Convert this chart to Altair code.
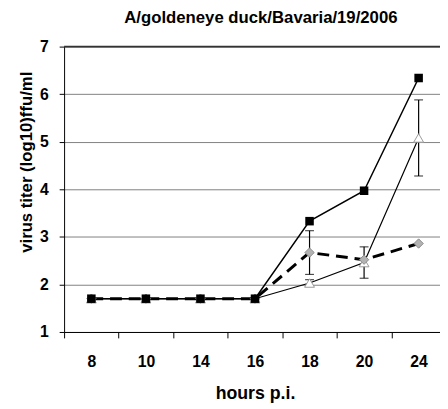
import altair as alt
import pandas as pd

hours = ["8", "10", "14", "16", "18", "20", "24"]
squares = [1.70, 1.70, 1.70, 1.70, 3.33, 3.97, 6.34]
triangles = [1.70, 1.70, 1.70, 1.70, 2.03, 2.46, 5.08]
diamonds = [1.70, 1.70, 1.70, 1.70, 2.67, 2.52, 2.86]
tri_err = [0, 0, 0, 0, 0.07, 0.33, 0.80]
dia_err = [0, 0, 0, 0, 0.46, 0, 0]

df_sq = pd.DataFrame({"hour": hours, "v": squares})
df_tri = pd.DataFrame({"hour": hours, "v": triangles})
df_dia = pd.DataFrame({"hour": hours, "v": diamonds})

err_rows = []
for h, v, e in zip(hours, triangles, tri_err):
    if e > 0:
        err_rows.append({"hour": h, "lo": v - e, "hi": v + e})
for h, v, e in zip(hours, diamonds, dia_err):
    if e > 0:
        err_rows.append({"hour": h, "lo": v - e, "hi": v + e})
df_err = pd.DataFrame(err_rows)
cap_rows = []
for r in err_rows:
    cap_rows.append({"hour": r["hour"], "c": r["lo"]})
    cap_rows.append({"hour": r["hour"], "c": r["hi"]})
df_cap = pd.DataFrame(cap_rows)

FONT = "Liberation Sans"

xenc = alt.X(
    "hour:O",
    sort=hours,
    scale=alt.Scale(type="band", paddingInner=0, paddingOuter=0, range=[0, 388]),
    axis=alt.Axis(
        title="hours p.i.",
        titleFontSize=18,
        titleFontWeight="bold",
        titleX=194,
        titleY=68,
        titleBaseline="alphabetic",
        labelAngle=0,
        labelFontSize=16,
        labelFontWeight="bold",
        labelPadding=16,
        tickBand="extent",
        tickSize=6,
        tickColor="black",
        domainColor="black",
        labelColor="black",
        titleColor="black",
        grid=False,
    ),
)

yscale = alt.Scale(domain=[1, 7], nice=False, zero=False)
yaxis = alt.Axis(
    title="virus titer (log10)ffu/ml",
    titleFontSize=17,
    titleFontWeight="bold",
    titleX=-38,
    titleY=117,
    titleAlign="center",
    titleBaseline="middle",
    values=[1, 2, 3, 4, 5, 6, 7],
    labelFontSize=16,
    labelFontWeight="bold",
    labelPadding=11,
    tickSize=5,
    tickColor="black",
    domainColor="black",
    labelColor="black",
    titleColor="black",
    grid=True,
    gridColor="#808080",
    gridWidth=1,
)

base_y = alt.Y("v:Q", scale=yscale, axis=yaxis)

top_rule = alt.Chart(pd.DataFrame({"t": [7]})).mark_rule(color="#333333", strokeWidth=2).encode(
    y=alt.Y("t:Q", scale=yscale)
)

err = alt.Chart(df_err).mark_rule(color="black", strokeWidth=1.2).encode(
    x=xenc, y=alt.Y("lo:Q", scale=yscale), y2="hi:Q"
)
caps = alt.Chart(df_cap).mark_tick(color="black", size=9, thickness=1.2).encode(
    x=xenc, y=alt.Y("c:Q", scale=yscale)
)

tri_line = alt.Chart(df_tri).mark_line(color="black", strokeWidth=1.2).encode(x=xenc, y=base_y)
tri_pts = alt.Chart(df_tri).mark_point(
    shape="triangle-up", filled=True, fill="white", stroke="#999999", strokeWidth=1, size=100, opacity=1
).encode(x=xenc, y=base_y)

sq_line = alt.Chart(df_sq).mark_line(color="black", strokeWidth=1.5).encode(x=xenc, y=base_y)

dia_line = alt.Chart(df_dia).mark_line(color="black", strokeWidth=3, strokeDash=[12, 7]).encode(x=xenc, y=base_y)
dia_pts = alt.Chart(df_dia).mark_point(
    shape="diamond", filled=True, fill="#b3b3b3", stroke="#8c8c8c", strokeWidth=1, size=90, opacity=1
).encode(x=xenc, y=base_y)

sq_pts = alt.Chart(df_sq).mark_point(
    shape="square", filled=True, color="black", size=75, opacity=1
).encode(x=xenc, y=base_y)

chart = alt.layer(
    top_rule, err, caps, tri_line, tri_pts, sq_line, dia_line, dia_pts, sq_pts
).properties(
    width=382,
    height=290,
    title=alt.TitleParams(
        "A/goldeneye duck/Bavaria/19/2006",
        fontSize=17,
        fontWeight="bold",
        font=FONT,
        color="black",
        anchor="middle",
        dx=9,
        offset=12,
    ),
    autosize=alt.AutoSizeParams(type="none"),
    padding={"left": 57, "top": 36, "right": 0, "bottom": 74},
).configure(font=FONT).configure_view(stroke=None).configure_axis(
    labelFont=FONT, titleFont=FONT
)

chart.save("out.html", embed_options={"renderer": "svg", "actions": False})
